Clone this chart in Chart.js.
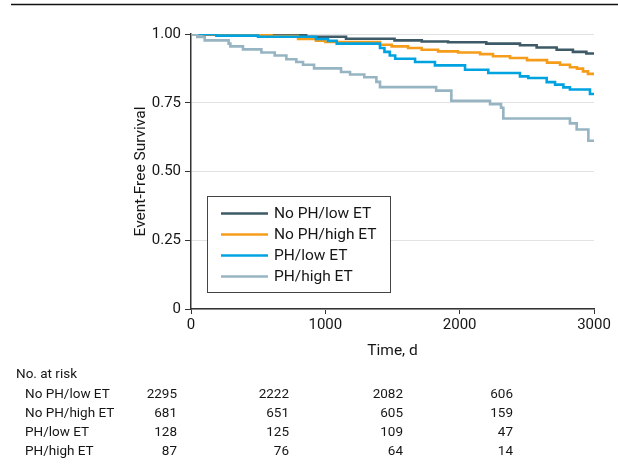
<!DOCTYPE html>
<html>
<head>
<meta charset="utf-8">
<script src="https://cdn.jsdelivr.net/npm/chart.js@4/dist/chart.umd.min.js"></script>
<style>
  html, body { margin: 0; padding: 0; background: #fff; }
  #wrap { width: 618px; height: 464px; position: relative; }
</style>
</head>
<body>
<div id="wrap"><canvas id="km"></canvas></div>
<script>
// series names, in legend order
const groups = ["No PH/low ET", "No PH/high ET", "PH/low ET", "PH/high ET"];
const colors = ["#3d5a66", "#f59d1a", "#00a3e0", "#97b4c2"];

// Kaplan-Meier steps: time (d) and survival after that time
const noPhLowT = [0, 100, 670, 857, 1154, 1515, 1718, 1914, 2198, 2449, 2573, 2722, 2843, 2943, 3000];
const noPhLowS = [1, 0.998, 0.996, 0.990, 0.983, 0.977, 0.973, 0.970, 0.965, 0.959, 0.951, 0.943, 0.935, 0.929, 0.929];

const noPhHighT = [0, 213, 600, 797, 930, 1000, 1407, 1494, 1616, 1717, 1839, 1988, 2152, 2248, 2375, 2501, 2650, 2747, 2821, 2873, 2918, 2955, 3000];
const noPhHighS = [1, 0.997, 0.993, 0.982, 0.976, 0.971, 0.961, 0.955, 0.949, 0.943, 0.937, 0.933, 0.927, 0.919, 0.913, 0.905, 0.896, 0.888, 0.879, 0.874, 0.864, 0.855, 0.855];

const phLowT = [0, 189, 499, 930, 1020, 1085, 1407, 1440, 1480, 1520, 1668, 1816, 2040, 2213, 2449, 2511, 2648, 2710, 2772, 2821, 2970, 3000];
const phLowS = [1, 0.994, 0.990, 0.982, 0.975, 0.965, 0.949, 0.935, 0.922, 0.910, 0.898, 0.886, 0.870, 0.858, 0.846, 0.840, 0.825, 0.816, 0.806, 0.798, 0.782, 0.782];

const phHighT = [0, 47, 102, 280, 293, 387, 524, 623, 710, 784, 834, 916, 1117, 1184, 1290, 1380, 1407, 1825, 1938, 2226, 2308, 2325, 2821, 2871, 2958, 3000];
const phHighS = [1, 0.989, 0.977, 0.965, 0.955, 0.944, 0.933, 0.922, 0.908, 0.898, 0.888, 0.875, 0.862, 0.853, 0.843, 0.826, 0.807, 0.794, 0.757, 0.745, 0.732, 0.693, 0.675, 0.653, 0.612, 0.612];

const xTicks = [0, 1000, 2000, 3000];
const yTicks = [0, 0.25, 0.5, 0.75, 1];

// numbers at risk
const riskLow = [2295, 2222, 2082, 606];
const riskHigh = [681, 651, 605, 159];
const riskPhLow = [128, 125, 109, 47];
const riskPhHigh = [87, 76, 64, 14];

const FONT = "Roboto, 'DejaVu Sans', sans-serif";
const INK = "#161616";

function toPoints(t, s) {
  return t.map(function(v, i) { return { x: v, y: s[i] }; });
}

const series = [
  toPoints(noPhLowT, noPhLowS),
  toPoints(noPhHighT, noPhHighS),
  toPoints(phLowT, phLowS),
  toPoints(phHighT, phHighS)
];

// frame rule, legend box and number-at-risk table
const extras = {
  id: "extras",
  afterDraw: function(chart) {
    const ctx = chart.ctx;
    ctx.save();

    // top rule
    ctx.strokeStyle = "#111";
    ctx.lineWidth = 1.5;
    ctx.beginPath();
    ctx.moveTo(11, 4.5);
    ctx.lineTo(618, 4.5);
    ctx.stroke();

    // legend
    ctx.fillStyle = "#fff";
    ctx.fillRect(207.5, 196.5, 183, 96);
    ctx.strokeStyle = "#444";
    ctx.lineWidth = 1;
    ctx.strokeRect(207.5, 196.5, 183, 96);
    ctx.font = "15.5px " + FONT;
    ctx.textBaseline = "middle";
    ctx.textAlign = "left";
    chart.data.datasets.forEach(function(ds, i) {
      const y = 213.5 + i * 21;
      ctx.strokeStyle = ds.borderColor;
      ctx.lineWidth = 2.5;
      ctx.beginPath();
      ctx.moveTo(221, y);
      ctx.lineTo(268, y);
      ctx.stroke();
      ctx.fillStyle = INK;
      ctx.fillText(ds.label, 274, y + 1);
    });

    // number at risk
    const rows = [riskLow, riskHigh, riskPhLow, riskPhHigh];
    const colRight = [177, 289, 403, 513];
    ctx.font = "13.5px " + FONT;
    ctx.fillStyle = INK;
    ctx.textAlign = "left";
    ctx.fillText("No. at risk", 16, 375);
    rows.forEach(function(r, i) {
      const y = 395 + i * 19;
      ctx.textAlign = "left";
      ctx.fillText(groups[i], 25, y);
      ctx.textAlign = "right";
      r.forEach(function(n, j) {
        ctx.fillText(String(n), colRight[j], y);
      });
    });
    ctx.restore();
  }
};

new Chart(document.getElementById("km"), {
  type: "line",
  data: {
    datasets: series.map(function(pts, i) {
      return {
        label: groups[i],
        data: pts,
        borderColor: colors[i],
        borderWidth: 2.6,
        stepped: "before",
        pointRadius: 0,
        fill: false,
        order: 4 - i
      };
    })
  },
  options: {
    responsive: true,
    maintainAspectRatio: false,
    animation: false,
    events: [],
    layout: { padding: { left: 132, right: 24, top: 34, bottom: 100 } },
    plugins: {
      legend: { display: false },
      tooltip: { enabled: false }
    },
    scales: {
      x: {
        type: "linear",
        min: 0,
        max: 3000,
        afterFit: function(s) { s.height = 55; },
        afterBuildTicks: function(s) { s.ticks = xTicks.map(function(v) { return { value: v }; }); },
        grid: { drawOnChartArea: false, tickLength: 5, tickColor: "#333", tickWidth: 1 },
        border: { color: "#333", width: 1.5 },
        ticks: {
          color: INK,
          font: { family: FONT, size: 15 },
          padding: 2,
          maxRotation: 0,
          callback: function(v) { return String(v); }
        },
        title: { display: true, text: "Time, d", color: INK, font: { family: FONT, size: 15.5 }, padding: { top: 0, bottom: 4 } }
      },
      y: {
        min: 0,
        max: 1,
        afterFit: function(s) { s.width = 59; },
        afterBuildTicks: function(s) { s.ticks = yTicks.map(function(v) { return { value: v }; }); },
        grid: { color: "#e2e2e2", lineWidth: 1, tickLength: 6, tickColor: "#333", tickWidth: 1 },
        border: { color: "#333", width: 1.5 },
        ticks: {
          color: INK,
          font: { family: FONT, size: 15 },
          padding: 4,
          callback: function(v) { return v === 0 ? "0" : v.toFixed(2); }
        },
        title: { display: true, text: "Event-Free Survival", color: INK, font: { family: FONT, size: 15.5 }, padding: 0 }
      }
    }
  },
  plugins: [extras]
});
</script>
</body>
</html>
